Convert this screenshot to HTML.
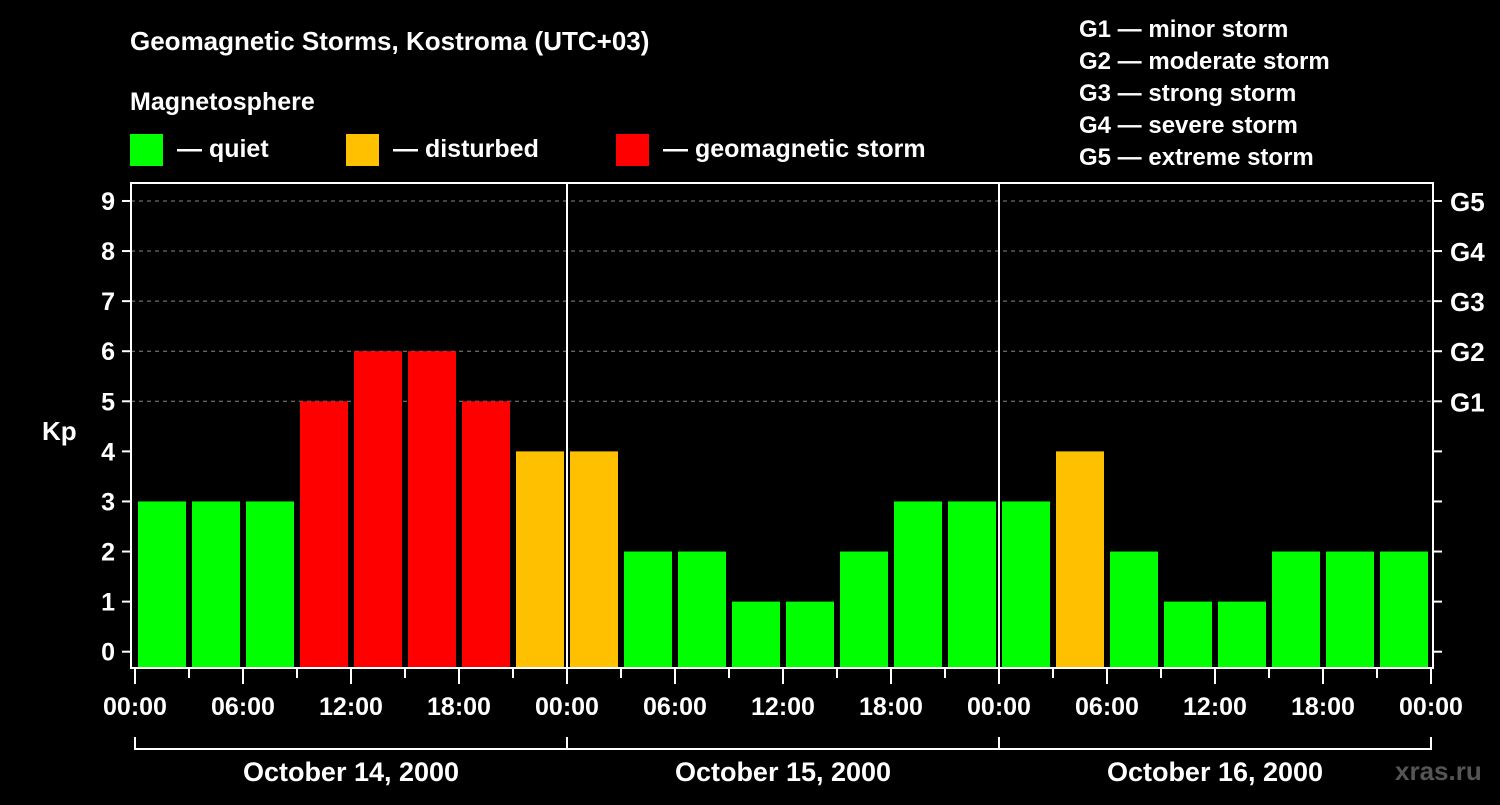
<!DOCTYPE html>
<html><head><meta charset="utf-8"><style>
body{margin:0;background:#000;width:1500px;height:800px;overflow:hidden}
svg text{font-family:"Liberation Sans",Arial,sans-serif;font-weight:bold;fill:#fff}
</style></head><body>
<svg id="chart" width="1500" height="800" viewBox="0 0 1500 800">
<text x="130" y="50" font-size="26">Geomagnetic Storms, Kostroma (UTC+03)</text>
<text x="130" y="110" font-size="25">Magnetosphere</text>
<g>
<rect x="130" y="134" width="33" height="32" fill="#00ff00"/><text x="177" y="157" font-size="25">— quiet</text>
<rect x="346" y="134" width="33" height="32" fill="#ffc000"/><text x="393" y="157" font-size="25">— disturbed</text>
<rect x="616" y="134" width="33" height="32" fill="#ff0000"/><text x="663" y="157" font-size="25">— geomagnetic storm</text>
</g>
<g font-size="24">
<text x="1079" y="37">G1 — minor storm</text>
<text x="1079" y="69">G2 — moderate storm</text>
<text x="1079" y="101">G3 — strong storm</text>
<text x="1079" y="133">G4 — severe storm</text>
<text x="1079" y="165">G5 — extreme storm</text>
</g>
<text x="42" y="440" font-size="26">Kp</text>
<text x="1395" y="780" font-size="26" style="fill:#555">xras.ru</text>
<g id="plot"></g>
</svg>
<script>
const kpValues=[3,3,3,5,6,6,5,4,4,2,2,1,1,2,3,3,3,4,2,1,1,2,2,2];
const yTicks=[0,1,2,3,4,5,6,7,8,9];
const gLabels={5:"G1",6:"G2",7:"G3",8:"G4",9:"G5"};
const xLabels=["00:00","06:00","12:00","18:00","00:00","06:00","12:00","18:00","00:00","06:00","12:00","18:00","00:00"];
const days=["October 14, 2000","October 15, 2000","October 16, 2000"];
const NS="http://www.w3.org/2000/svg";
const g=document.getElementById('plot');
const X0=135,SLOT=54,PL=131,PR=1433,PT=183,PB=668;
const y=v=>651.7-v*50.08;
const x=i=>X0+i*SLOT;
function mk(t,a,p){const e=document.createElementNS(NS,t);for(const k in a)e.setAttribute(k,a[k]);(p||g).appendChild(e);return e;}
yTicks.forEach(v=>{
 if(v>=5){const l=mk('line',{x1:PL,x2:PR,y1:y(v),y2:y(v),stroke:'#888','stroke-dasharray':'4,4','stroke-width':1});
 
 }
 mk('line',{x1:122,x2:PL,y1:y(v),y2:y(v),stroke:'#fff','stroke-width':2});
 mk('line',{x1:PR,x2:1442,y1:y(v),y2:y(v),stroke:'#fff','stroke-width':2});
 const t=mk('text',{x:115,y:y(v)+9,'font-size':25,'text-anchor':'end'});t.textContent=v;
 
 
 if(gLabels[v]){const r=mk('text',{x:1450,y:y(v)+10,'font-size':26});r.textContent=gLabels[v];
 
 }
});
kpValues.forEach((v,i)=>{
 const c=v>=5?'#ff0000':v==4?'#ffc000':'#00ff00';
 const b=mk('rect',{x:x(i)+3,y:y(v),width:48,height:PB-y(v),fill:c});
 
 
});
[1,2].forEach(d=>{mk('line',{x1:x(d*8),x2:x(d*8),y1:PT,y2:PB,stroke:'#fff','stroke-width':2});});
const f=mk('rect',{x:PL,y:PT,width:PR-PL,height:PB-PT,fill:'none',stroke:'#fff','stroke-width':2});


for(let i=0;i<=24;i++){mk('line',{x1:x(i),x2:x(i),y1:PB,y2:PB+(i%2==0?16:10),stroke:'#fff','stroke-width':2});}
xLabels.forEach((s,i)=>{const t=mk('text',{x:x(i*2),y:715,'font-size':25,'text-anchor':'middle'});t.textContent=s;
 
 });
mk('line',{x1:x(0),x2:x(24),y1:749,y2:749,stroke:'#fff','stroke-width':2});
for(let d=0;d<=3;d++)mk('line',{x1:x(d*8),x2:x(d*8),y1:737,y2:750,stroke:'#fff','stroke-width':2});
days.forEach((s,d)=>{const t=mk('text',{x:x(d*8+4),y:781,'font-size':27,'text-anchor':'middle'});t.textContent=s;
 
 });
</script>
</body></html>
